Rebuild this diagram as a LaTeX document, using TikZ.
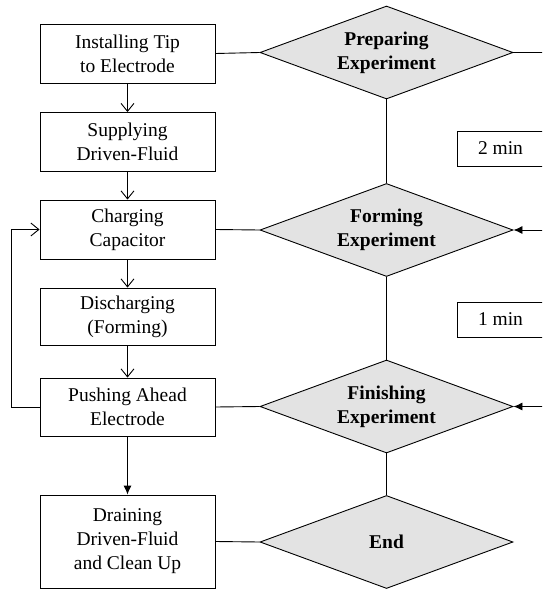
\documentclass[tikz,border=0pt]{standalone}
\usepackage{fontspec}
\setmainfont{Liberation Serif}
\usetikzlibrary{shapes.geometric,arrows.meta}
\tikzset{
  txt/.style={font=\fontsize{19.5}{24}\selectfont},
  stepbox/.style={txt, draw, line width=0.9pt, minimum width=175pt, minimum height=59pt, align=center, inner sep=2pt},
  phase/.style={diamond, draw, line width=0.9pt, fill=gray!22, aspect=2.7, inner sep=0pt,
    minimum width=253pt, minimum height=93pt, align=center, font=\fontsize{19.5}{24}\selectfont\bfseries},
  timebox/.style={txt, draw, line width=0.9pt, minimum width=95pt, minimum height=35pt},
  link/.style={line width=0.9pt},
  open/.style={link, -{Straight Barb[length=8pt,width=13pt,line width=0.9pt]}},
  solid/.style={link, -{Latex[length=9pt,width=8pt]}}
}
\begin{document}
\begin{tikzpicture}[x=1pt,y=-1pt]
      \clip (0,0) rectangle (542,589);
      \useasboundingbox (0,0) rectangle (542,589);
      % process steps
      \node[stepbox] (inst) at (127.5,53.5) {Installing Tip\\to Electrode};
      \node[stepbox] (supp) at (127.5,142) {Supplying\\Driven-Fluid};
      \node[stepbox] (charge) at (127.5,229.5) {Charging\\Capacitor};
      \node[stepbox, minimum height=57pt] (disch) at (127.5,316.5) {Discharging\\(Forming)};
      \node[stepbox, minimum height=58pt] (push) at (127.5,407) {Pushing Ahead\\Electrode};
      \node[stepbox, minimum height=93pt] (drain) at (127.5,541.5) {Draining\\Driven-Fluid\\and Clean Up};
      % phases
      \node[phase] (prep) at (386.5,52.5) {Preparing\\Experiment};
      \node[phase] (form) at (386.5,230) {Forming\\Experiment};
      \node[phase] (fin) at (386.5,406.5) {Finishing\\Experiment};
      \node[phase] (done) at (386.5,542) {End};
      % times
      \node[timebox] (t2) at (504.5,148.5) {\hspace*{-8pt}2 min};
      \node[timebox] (t1) at (504.5,319.5) {\hspace*{-8pt}1 min};
      \coordinate (e1) at (545,52.5);
      \coordinate (e2) at (545,230);
      \coordinate (e3) at (545,406.5);
      \coordinate (back) at (11,229.5);
      \draw[open] (inst) -- (supp);
      \draw[open] (supp) -- (charge);
      \draw[open] (charge) -- (disch);
      \draw[open] (disch) -- (push);
      \draw[solid] (push) -- (drain);
      \draw[open] (push.west) -| (back) -- (charge.west);
      \draw[link] (inst.east) -- (prep.west);
      \draw[link] (charge.east) -- (form.west);
      \draw[link] (push.east) -- (fin.west);
      \draw[link] (drain.east) -- (done.west);
      \draw[link] (prep.south) -- (form.north);
      \draw[link] (form.south) -- (fin.north);
      \draw[link] (fin.south) -- (done.north);
      \draw[link] (prep.east) -- (e1);
      \draw[solid] (e2) -- (form.east);
      \draw[solid] (e3) -- (fin.east);
\end{tikzpicture}
\end{document}
